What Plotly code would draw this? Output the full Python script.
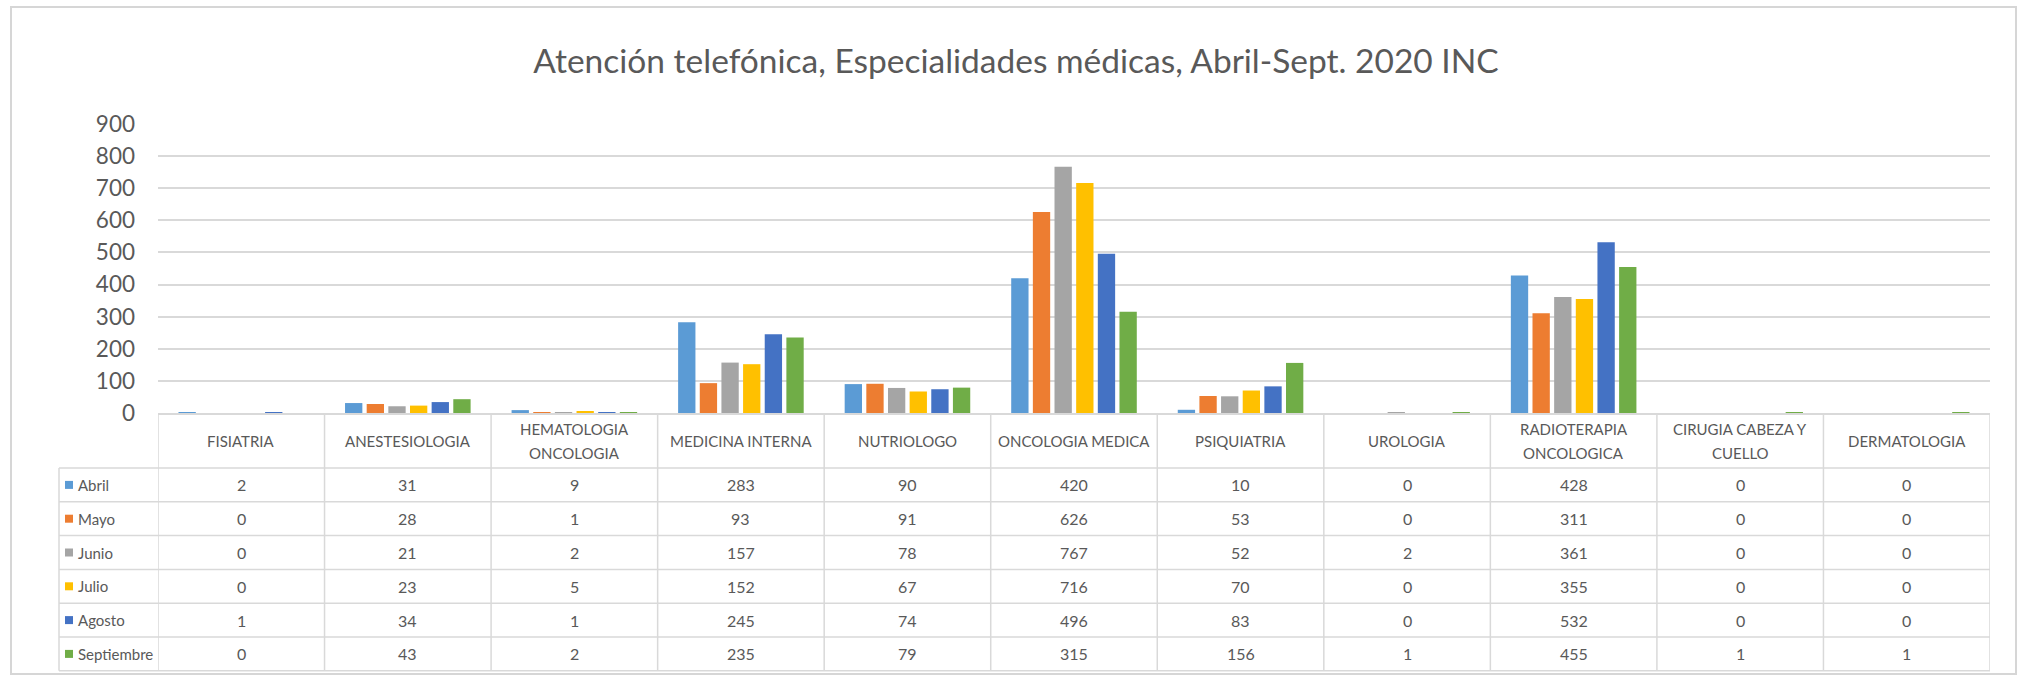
import plotly.graph_objects as go

# ---------------- data ----------------
categories = ["FISIATRIA", "ANESTESIOLOGIA", "HEMATOLOGIA<br>ONCOLOGIA", "MEDICINA INTERNA",
              "NUTRIOLOGO", "ONCOLOGIA MEDICA", "PSIQUIATRIA", "UROLOGIA",
              "RADIOTERAPIA<br>ONCOLOGICA", "CIRUGIA CABEZA Y<br>CUELLO", "DERMATOLOGIA"]
months = ["Abril", "Mayo", "Junio", "Julio", "Agosto", "Septiembre"]
abril = [2, 31, 9, 283, 90, 420, 10, 0, 428, 0, 0]
mayo = [0, 28, 1, 93, 91, 626, 53, 0, 311, 0, 0]
junio = [0, 21, 2, 157, 78, 767, 52, 2, 361, 0, 0]
julio = [0, 23, 5, 152, 67, 716, 70, 0, 355, 0, 0]
agosto = [1, 34, 1, 245, 74, 496, 83, 0, 532, 0, 0]
septiembre = [0, 43, 2, 235, 79, 315, 156, 1, 455, 1, 1]
series = [abril, mayo, junio, julio, agosto, septiembre]
colors = ["#5B9BD5", "#ED7D31", "#A5A5A5", "#FFC000", "#4472C4", "#70AD47"]
y_ticks = [0, 100, 200, 300, 400, 500, 600, 700, 800, 900]
title_text = "Atención telefónica, Especialidades médicas, Abril-Sept. 2020 INC"

# ---------------- layout geometry (pixels) ----------------
W, H = 2026, 678
PL, PR, PT, PB = 158, 1990, 124, 413
LEG_L = 59
HDR_B = 468
ROW_H = 33.8
FONT = "Lato"
TXT = "#595959"
GRID = "#D9D9D9"


def px_x(px):
    return (px - PL) / (PR - PL)


def px_y(py):
    return (PB - py) / (PB - PT)


fig = go.Figure()
for name, vals, col in zip(months, series, colors):
    fig.add_trace(go.Bar(x=categories, y=vals, name=name, marker_color=col,
                         marker_line_width=0, showlegend=False))

shapes = []
annotations = []

# outer chart border
shapes.append(dict(type="rect", xref="paper", yref="paper",
                   x0=px_x(11), x1=px_x(2016), y0=px_y(674), y1=px_y(7),
                   line=dict(color="#D6D6D6", width=2), layer="below"))

n = len(categories)
row_lines = [HDR_B + k * ROW_H for k in range(len(months) + 1)]
table_bottom = row_lines[-1]

# horizontal table lines
for yl in row_lines:
    shapes.append(dict(type="line", xref="paper", yref="paper",
                       x0=px_x(LEG_L), x1=1, y0=px_y(yl), y1=px_y(yl),
                       line=dict(color=GRID, width=1.5)))
# vertical table lines at category boundaries
for i in range(n + 1):
    shapes.append(dict(type="line", xref="x", yref="paper",
                       x0=i - 0.5, x1=i - 0.5, y0=px_y(PB), y1=px_y(table_bottom),
                       line=dict(color=GRID, width=1.5)))
# legend column left border
shapes.append(dict(type="line", xref="paper", yref="paper",
                   x0=px_x(LEG_L), x1=px_x(LEG_L), y0=px_y(HDR_B), y1=px_y(table_bottom),
                   line=dict(color=GRID, width=1.5)))

# header labels
hdr_c = (PB + HDR_B) / 2
for i, cat in enumerate(categories):
    lines = cat.split("<br>")
    k = len(lines)
    for j, ln in enumerate(lines):
        yc = hdr_c + (j - (k - 1) / 2) * 24
        annotations.append(dict(x=i, y=px_y(yc), xref="x", yref="paper", text=ln,
                                showarrow=False, xanchor="center", yanchor="middle",
                                font=dict(family=FONT, size=15, color=TXT)))

# rows: legend key + values
for r, (name, vals, col) in enumerate(zip(months, series, colors)):
    yc = HDR_B + (r + 0.5) * ROW_H
    shapes.append(dict(type="rect", xref="paper", yref="paper",
                       x0=px_x(65), x1=px_x(73), y0=px_y(yc + 4), y1=px_y(yc - 4),
                       fillcolor=col, line=dict(width=0)))
    annotations.append(dict(x=px_x(76), y=px_y(yc), xref="paper", yref="paper", text=name,
                            showarrow=False, xanchor="left", yanchor="middle",
                            font=dict(family=FONT, size=15, color=TXT)))
    for i, v in enumerate(vals):
        annotations.append(dict(x=i, y=px_y(yc), xref="x", yref="paper", text=str(v),
                                showarrow=False, xanchor="center", yanchor="middle",
                                font=dict(family=FONT, size=16, color=TXT)))

fig.update_layout(
    width=W, height=H,
    margin=dict(l=PL, r=W - PR, t=PT, b=H - PB, pad=0),
    paper_bgcolor="white", plot_bgcolor="white",
    barmode="group", bargap=0.22, bargroupgap=0.2,
    title=dict(text=title_text, x=1016 / W, xanchor="center", xref="container",
               y=1 - 61 / H, yref="container", yanchor="middle",
               font=dict(family=FONT, size=33.5, color=TXT)),
    xaxis=dict(type="category", showticklabels=False, showgrid=False,
               showline=True, linecolor=GRID, linewidth=1.5, ticks="",
               range=[-0.5, n - 0.5], fixedrange=True),
    yaxis=dict(range=[0, 900], tickvals=y_ticks, showgrid=True, gridcolor=GRID,
               gridwidth=1.5, zeroline=False, showline=False, ticks="",
               ticklabelstandoff=22,
               tickfont=dict(family=FONT, size=22.5, color=TXT), fixedrange=True),
    shapes=shapes, annotations=annotations,
)

fig.write_html("out.html", config={"displayModeBar": False},
               post_script="document.body.style.margin='0';document.body.style.overflow='hidden';")
